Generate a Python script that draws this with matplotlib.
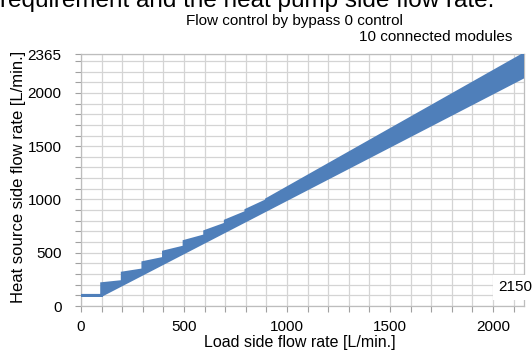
# Flow control by bypass 0 control - heat source side vs load side flow rate

import numpy as np
from matplotlib import pyplot as plt

plt.rcParams['font.family'] = ['Liberation Sans', 'DejaVu Sans']

# Band edges (upper edge is the stepped one)
upper_x = [0, 100, 100, 200, 200, 300, 300, 400, 400, 500, 500,
           600, 600, 700, 700, 800, 800, 900, 900, 2150]
upper_y = [100, 100, 210, 230, 310, 340, 408, 448, 508, 555, 607,
           660, 700, 770, 800, 880, 900, 990, 1000, 2365]
lower_x = [0, 100, 2150]
lower_y = [100, 100, 2150]

x_max = 2150
y_max = 2365
x_labels = [0, 500, 1000, 1500, 2000]
y_labels = [0, 500, 1000, 1500, 2000, 2365]

band_color = '#4f7fba'
grid_color = '#d4d4d4'

fig = plt.figure(figsize=(5.32, 3.5), dpi=100)
ax = fig.add_axes([81/532, 1-306/350, (524-81)/532, (306-54)/350])

# band polygon: upper edge left->right, lower edge right->left
poly_x = upper_x + lower_x[::-1]
poly_y = upper_y + lower_y[::-1]
ax.fill(poly_x, poly_y, color=band_color, lw=2, edgecolor=band_color, zorder=3)

ax.set_xlim(0, x_max)
ax.set_ylim(0, y_max)

xt = list(range(0, 2200, 100))
ax.set_xticks(xt)
ax.set_xticklabels([str(v) if v in x_labels else '' for v in xt])
yt = list(range(0, 2400, 100)) + [y_max]
ax.set_yticks(yt)
ax.set_yticklabels([str(v) if v in y_labels else '' for v in yt])
ax.tick_params(direction='out', length=4, width=0.8, color='#a0a0a0', labelsize=11)
ax.tick_params(axis='x', pad=6)
ax.tick_params(axis='y', pad=10)
ax.grid(True, color=grid_color, lw=0.9, zorder=0)
ax.set_axisbelow(True)
for s in ax.spines.values():
    s.set_color('#bdbdbd')
    s.set_linewidth(0.9)

ax.set_xlabel('Load side flow rate [L/min.]', fontsize=11.5)
ax.set_ylabel('Heat source side flow rate [L/min.]', fontsize=12)
ax.xaxis.set_label_coords((300-81)/443, -(335-306)/252)
ax.yaxis.set_label_coords(-(81-26)/443, (306-177)/252)

fig.text(0.0, 1-7/350, 'requirement and the heat pump side flow rate.',
         fontsize=17.5, va='baseline', ha='left')
fig.text(294/532, 1-21/350, 'Flow control by bypass 0 control',
         fontsize=11, va='center', ha='center')
fig.text(512/532, 1-37/350, '10 connected modules',
         fontsize=11, va='center', ha='right')
fig.text(515/532, 1-287/350, '2150', fontsize=11, va='center', ha='center',
         bbox=dict(facecolor='white', edgecolor='none', pad=4))

fig.savefig('out.png', dpi=100)
